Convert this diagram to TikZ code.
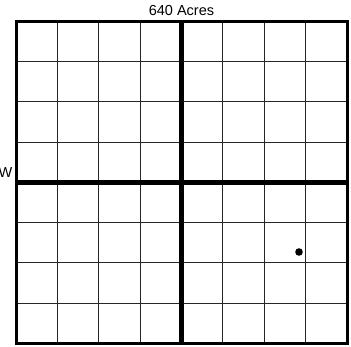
\documentclass[tikz,border=0pt]{standalone}
\usepackage{fontspec}
\setmainfont{Liberation Sans}
\begin{document}
\begin{tikzpicture}[x=1pt,y=-1pt,
  thin grid/.style={draw=black!85,line width=0.8pt},
  thick grid/.style={draw=black,line width=4.3pt},
  border/.style={draw=black,line width=3pt},
  label/.style={inner sep=0pt,font=\fontsize{14.5}{16}\selectfont}]
\useasboundingbox (0,0) rectangle (351,346);
% thin lines
\foreach \k in {1,2,3,5,6,7}{
  \draw[thin grid] ({16+41.375*\k},21) -- ({16+41.375*\k},343.5);
  \draw[thin grid] (16,{21+40.3*\k}) -- (347,{21+40.3*\k});
}
% centre cross
\draw[thick grid] (181.5,21) -- (181.5,343.5);
\draw[thick grid] (16,182.5) -- (347,182.5);
% border
\draw[border] (16.5,21) rectangle (347,343.5);
% labels
\node[label,anchor=base] (title) at (181.5,15) {640 Acres};
\node[label,anchor=base east] (w) at (12.5,177.5) {W};
% dot
\fill (299,252) circle (3.8);
\end{tikzpicture}
\end{document}
